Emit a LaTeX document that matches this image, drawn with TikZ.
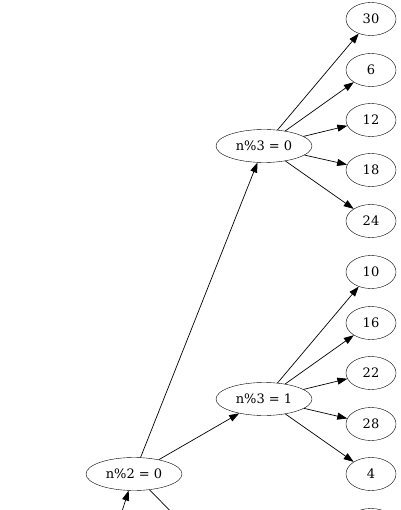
\documentclass[tikz,border=0pt]{standalone}
\usepackage{fontspec}
\setmainfont{DejaVu Serif}
\usepackage{tikz}
\usetikzlibrary{arrows.meta,shapes.geometric}

\begin{document}
\begin{tikzpicture}[
    x=1pt, y=-1pt,
    test/.style={draw, ellipse, inner sep=0pt, minimum width=96pt, minimum height=33pt, font=\fontsize{13}{15}\selectfont},
    leaf/.style={draw, ellipse, inner sep=0pt, minimum width=50pt, minimum height=33pt, font=\fontsize{13}{15}\selectfont},
    arr/.style={-{Triangle[length=10pt, width=7pt]}, line width=0.7pt}
]
\clip (0,0) rectangle (400,510);
\node[test] (n2z) at (134,474) {n\%2 = 0};
\node[test] (n3z) at (264,146) {n\%3 = 0};
\node[test] (n3o) at (264,399) {n\%3 = 1};

\node[leaf] (m30) at (371,19) {30};
\node[leaf] (m6) at (371,70) {6};
\node[leaf] (m12) at (371,120) {12};
\node[leaf] (m18) at (371,170) {18};
\node[leaf] (m24) at (371,221) {24};

\node[leaf] (m10) at (371,272) {10};
\node[leaf] (m16) at (371,323) {16};
\node[leaf] (m22) at (371,373) {22};
\node[leaf] (m28) at (371,424) {28};
\node[leaf] (m4) at (371,474) {4};

% cut off below
\node[leaf] (mnext) at (371,525) {};
\coordinate (below) at (116,530);
\coordinate (down) at (189,530);

\draw[arr] (below) -- (n2z);
\draw[line width=0.7pt] (n2z) -- (down);
\draw[arr] (n2z) -- (n3z);
\draw[arr] (n2z) -- (n3o);

\foreach \m in {30,6,12,18,24}
    \draw[arr] (n3z) -- (m\m);
\foreach \m in {10,16,22,28,4}
    \draw[arr] (n3o) -- (m\m);
\end{tikzpicture}
\end{document}
